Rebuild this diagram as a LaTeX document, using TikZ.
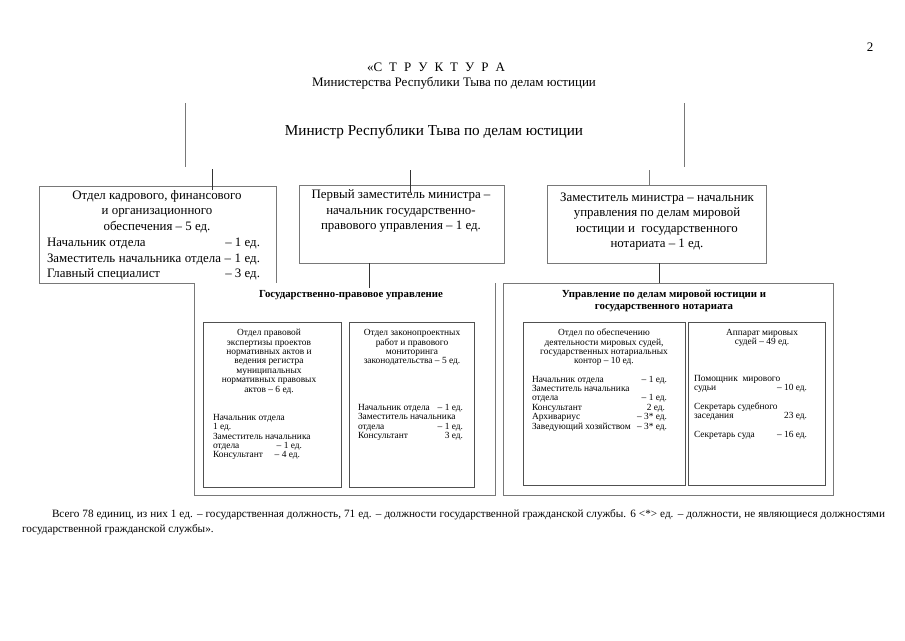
\documentclass[tikz,border=0pt]{standalone}
\usepackage{fontspec}
\setmainfont{Liberation Serif}
\newcommand\ttlfont{\fontsize{13}{14}\selectfont}
\newcommand\minfont{\fontsize{15.2}{17}\selectfont}
\newcommand\bxfont{\fontsize{12.9}{15.5}\selectfont}
\newcommand\hdfont{\fontsize{10.8}{12}\selectfont\bfseries}
\newcommand\infont{\fontsize{9.4}{9.4}\selectfont}
\newcommand\ftfont{\fontsize{11.2}{12}\selectfont}
\definecolor{lnc}{RGB}{120,120,120}
\definecolor{lnd}{RGB}{80,80,80}
\begin{document}
\begin{tikzpicture}[x=1pt,y=-1pt,
  every node/.style={inner sep=0pt,outer sep=0pt},
  frame/.style={draw=lnc,line width=0.8pt},
  inbox/.style={draw=lnd,line width=0.8pt},
  conn/.style={draw=black!80,line width=0.8pt}]
\fill[white] (0,0) rectangle (905,640);
\useasboundingbox (0,0) rectangle (905,640);

% box shapes
\node[minimum width=499pt,minimum height=64pt] (min) at (434.5,135) {};
\node[minimum width=237pt,minimum height=97pt] (kadr) at (157.5,234.5) {};
\node[frame,minimum width=205pt,minimum height=78pt] (perv) at (401.5,224) {};
\node[frame,minimum width=219pt,minimum height=78pt] (zam) at (656.5,224) {};
\node[minimum width=301pt,minimum height=212pt] (gpu) at (344.5,389) {};
\node[frame,minimum width=330pt,minimum height=212pt] (umu) at (668,389) {};
\node[inbox,minimum width=138pt,minimum height=165pt] (in1) at (272,404.5) {};
\node[inbox,minimum width=125pt,minimum height=165pt] (in2) at (411.5,404.5) {};
\node[inbox,minimum width=162pt,minimum height=163pt] (in3) at (604,403.5) {};
\node[inbox,minimum width=137pt,minimum height=163pt] (in4) at (756.5,403.5) {};

\draw[frame] (min.north west) -- (min.south west);
\draw[frame] (min.north east) -- (min.south east);
\draw[frame] (gpu.north west) -- (kadr.south west) -- (kadr.north west) -- (kadr.north east) -- (kadr.south east);
\draw[frame] (gpu.north west) -- (gpu.south west) -- (gpu.south east) -- (gpu.north east);

% connectors
\coordinate (k1) at (212,0);
\coordinate (k2) at (410,0);
\coordinate (k3) at (649,0);
\coordinate (k4) at (369,0);
\coordinate (k5) at (659,0);
\draw[conn] ([yshift=-2pt]min.south -| k1) -- ([yshift=-4pt]kadr.north -| k1);
\draw[conn] ([yshift=-3pt]min.south -| k2) -- ([yshift=-7pt]perv.north -| k2);
\draw[frame] ([yshift=-3pt]min.south -| k3) -- (zam.north -| k3);
\draw[conn] (perv.south -| k4) -- ([yshift=-5pt]gpu.north -| k4);
\draw[conn] (zam.south -| k5) -- (umu.north -| k5);

% texts
\node[font=\ttlfont] (pagenum) at (870,47) {2};
\node[font=\ttlfont] (title) at (436,67) {\makebox[138pt][s]{«С Т Р У К Т У Р А}};
\node[font=\ttlfont] (subtitle) at (454,83) {Министерства Республики Тыва по делам юстиции};
\node[font=\minfont] (minT) at (434,132) {Министр Республики Тыва по делам юстиции};

\node[font=\bxfont,align=center] (kadrA) at (157,211.5) {Отдел кадрового, финансового\\и организационного\\обеспечения – 5 ед.};
\node[font=\bxfont,align=left,anchor=west] (kadrB) at (47,259) {\makebox[213pt][l]{Начальник отдела\hfill– 1 ед.}\\\makebox[213pt][s]{Заместитель начальника отдела – 1 ед.}\\\makebox[213pt][l]{Главный специалист\hfill– 3 ед.}};
\node[font=\bxfont,align=center] (pervT) at (401,211) {Первый заместитель министра –\\начальник государственно-\\правового управления – 1 ед.};
\node[font=\bxfont,align=center] (zamT) at (657,221.5) {Заместитель министра – начальник\\управления по делам мировой\\юстиции и\ \ государственного\\нотариата – 1 ед.};

\node[font=\hdfont,align=center] (gpuT) at (351,295) {Государственно-правовое управление};
\node[font=\hdfont,align=center] (umuT) at (664,301) {Управление по делам мировой юстиции и\\государственного нотариата};

\node[font=\infont,align=center] (in1A) at (269,361.5) {Отдел правовой\\экспертизы проектов\\нормативных актов и\\ведения регистра\\муниципальных\\нормативных правовых\\актов – 6 ед.};
\node[font=\infont,align=left,anchor=west] (in1B) at (213,437) {Начальник отдела\\1 ед.\\Заместитель начальника\\\makebox[89pt][l]{отдела\hfill– 1 ед.}\\\makebox[87pt][l]{Консультант\hfill– 4 ед.}};

\node[font=\infont,align=center] (in2A) at (412,347.5) {Отдел законопроектных\\работ и правового\\мониторинга\\законодательства – 5 ед.};
\node[font=\infont,align=left,anchor=west] (in2B) at (358,422.5) {\makebox[105pt][l]{Начальник отдела\hfill– 1 ед.}\\Заместитель начальника\\\makebox[105pt][l]{отдела\hfill– 1 ед.}\\\makebox[105pt][l]{Консультант\hfill3 ед.}};

\node[font=\infont,align=center] (in3A) at (604,347.5) {Отдел по обеспечению\\деятельности мировых судей,\\государственных нотариальных\\контор – 10 ед.};
\node[font=\infont,align=left,anchor=west] (in3B) at (532,403.5) {\makebox[135pt][l]{Начальник отдела\hfill– 1 ед.}\\Заместитель начальника\\\makebox[135pt][l]{отдела\hfill– 1 ед.}\\\makebox[133pt][l]{Консультант\hfill2 ед.}\\\makebox[135pt][l]{Архивариус\hfill– 3* ед.}\\\makebox[135pt][l]{Заведующий хозяйством\hfill– 3* ед.}};

\node[font=\infont,align=center] (in4A) at (762,338) {Аппарат мировых\\судей – 49 ед.};
\node[font=\infont,align=left,anchor=west] (in4B) at (694,407.5) {Помощник\ \ мирового\\\makebox[113pt][l]{судьи\hfill– 10 ед.}\\\mbox{}\\Секретарь судебного\\\makebox[113pt][l]{заседания\hfill23 ед.}\\\mbox{}\\\makebox[113pt][l]{Секретарь суда\hfill– 16 ед.}};

\node[font=\ftfont,anchor=west] (foot1) at (52,515) {\makebox[833pt][s]{Всего 78 единиц, из них 1 ед. – государственная должность, 71 ед. – должности государственной гражданской службы. 6 <*> ед. – должности, не являющиеся должностями}};
\node[font=\ftfont,anchor=west] (foot2) at (22,530) {государственной гражданской службы».};
\end{tikzpicture}
\end{document}
